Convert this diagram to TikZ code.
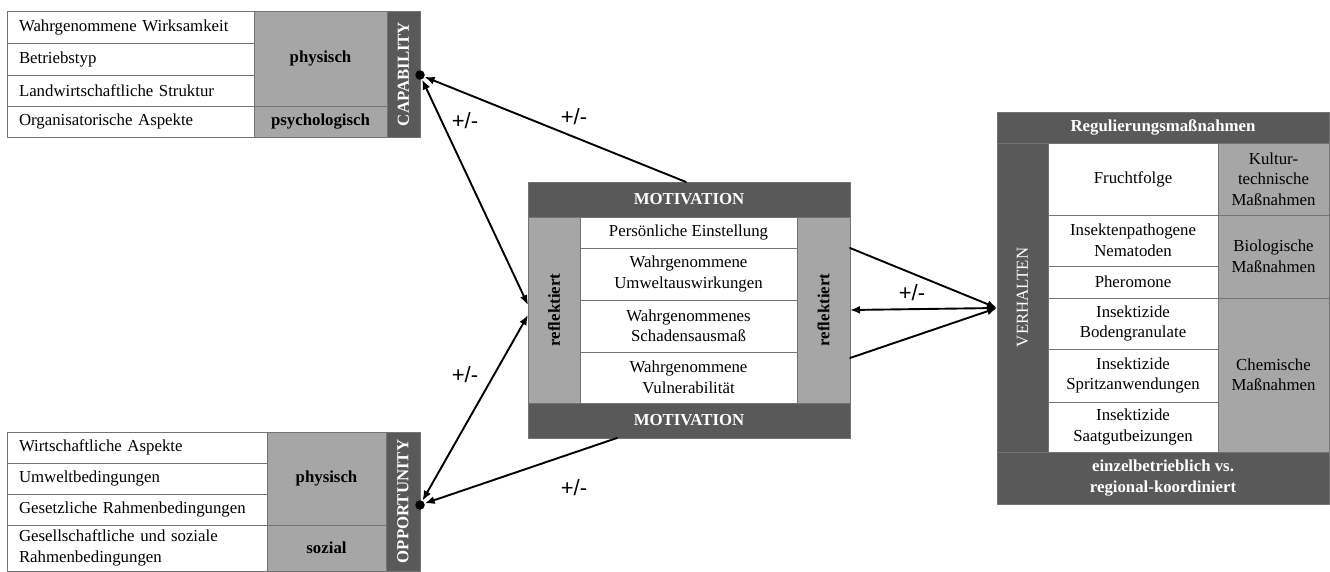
\documentclass[tikz,border=0pt]{standalone}
\usepackage{fontspec}
\setmainfont{Liberation Serif}
\newfontfamily\pmfont{Liberation Sans}
\usetikzlibrary{arrows.meta,positioning}
\definecolor{darkgr}{HTML}{595959}
\definecolor{midgr}{HTML}{A6A6A6}
\newcommand{\cellfont}{\fontsize{16.8}{20.5}\selectfont}
\tikzset{
  sz/.style 2 args={minimum width=#1,minimum height=#2},
  cell/.style={rectangle,draw=black!55,line width=0.7pt,fill=white,inner sep=0pt,
               align=center,font=\cellfont},
  lcell/.style={cell,align=left,text width=#1},
  grp/.style={cell,fill=midgr,font=\cellfont\bfseries},
  hdr/.style={cell,fill=darkgr,text=white,font=\cellfont\bfseries},
  dot/.style={circle,fill=black,inner sep=0pt,minimum size=9.5pt},
  pm/.style={font=\pmfont\fontsize{22}{26}\selectfont},
  arr/.style={line width=1.9pt,-{Latex[length=10pt,width=8pt]}},
  darr/.style={line width=1.9pt,{Latex[length=10pt,width=8pt]}-{Latex[length=10pt,width=8pt]}},
  every picture/.style={line cap=round,line join=round}}

\begin{document}
\begin{tikzpicture}[x=1pt,y=-1pt]
  \useasboundingbox (0,0) rectangle (1330,572);
  % capability
  \node[lcell=223pt,sz={247pt}{32pt}] (c1) at (130.5,27) {Wahrgenommene Wirksamkeit};
  \node[lcell=223pt,sz={247pt}{32pt}] (c2) at (130.5,59) {Betriebstyp};
  \node[lcell=223pt,sz={247pt}{31pt}] (c3) at (130.5,90.5) {Landwirtschaftliche Struktur};
  \node[lcell=223pt,sz={247pt}{31pt}] (c4) at (130.5,121.5) {Organisatorische Aspekte};
  \node[grp,sz={133pt}{95pt}] (cphys) at (320.5,58.5) {physisch};
  \node[grp,sz={133pt}{31pt}] (cpsy) at (320.5,121.5) {psychologisch};
  \node[hdr,rotate=90,sz={126pt}{33pt}] (cap) at (403.5,74) {CAPABILITY};
  \node[dot] (capdot) at (420,75) {};
  % opportunity
  \node[lcell=236pt,sz={260pt}{31pt}] (o1) at (137,447.5) {Wirtschaftliche Aspekte};
  \node[lcell=236pt,sz={260pt}{31pt}] (o2) at (137,478.5) {Umweltbedingungen};
  \node[lcell=236pt,sz={260pt}{31pt}] (o3) at (137,509.5) {Gesetzliche Rahmenbedingungen};
  \node[lcell=236pt,sz={260pt}{46pt}] (o4) at (137,548) {Gesellschaftliche und soziale\\Rahmenbedingungen};
  \node[grp,sz={119pt}{93pt}] (ophys) at (326.5,478.5) {physisch};
  \node[grp,sz={119pt}{46pt}] (osoz) at (326.5,548) {sozial};
  \node[hdr,rotate=90,sz={139pt}{34pt}] (opp) at (403,501.5) {OPPORTUNITY};
  \node[dot] (oppdot) at (420,505) {};
  % motivation
  \node[hdr,sz={322pt}{35pt}] (mtop) at (689,199.5) {MOTIVATION};
  \node[hdr,sz={322pt}{35pt}] (mbot) at (689,420.5) {MOTIVATION};
  \node[grp,text=black,rotate=90,sz={186pt}{52pt}] (refl) at (554,310) {reflektiert};
  \node[grp,text=black,rotate=90,sz={186pt}{53pt}] (refr) at (823.5,310) {reflektiert};
  \node[cell,sz={217pt}{31pt}] (m1) at (688.5,232.5) {Persönliche Einstellung};
  \node[cell,sz={217pt}{52pt}] (m2) at (688.5,274) {Wahrgenommene\\Umweltauswirkungen};
  \node[cell,sz={217pt}{52pt}] (m3) at (688.5,326) {Wahrgenommenes\\Schadensausmaß};
  \node[cell,sz={217pt}{51pt}] (m4) at (688.5,377.5) {Wahrgenommene\\Vulnerabilität};
  % regulierung
  \node[hdr,sz={332pt}{31pt}] (rtop) at (1163,127.5) {Regulierungsmaßnahmen};
  \node[hdr,font=\cellfont,rotate=90,sz={309pt}{51pt}] (verh) at (1022.5,297.5) {VERHALTEN};
  \node[cell,sz={170pt}{72pt}] (r1) at (1133,179) {Fruchtfolge};
  \node[cell,sz={170pt}{51pt}] (r2) at (1133,240.5) {Insektenpathogene\\Nematoden};
  \node[cell,sz={170pt}{32pt}] (r3) at (1133,282) {Pheromone};
  \node[cell,sz={170pt}{51pt}] (r4) at (1133,323.5) {Insektizide\\Bodengranulate};
  \node[cell,sz={170pt}{53pt}] (r5) at (1133,375.5) {Insektizide\\Spritzanwendungen};
  \node[cell,sz={170pt}{50pt}] (r6) at (1133,427) {Insektizide\\Saatgutbeizungen};
  \node[grp,font=\cellfont,sz={111pt}{72pt}] (g1) at (1273.5,179) {Kultur-\\technische\\Maßnahmen};
  \node[grp,font=\cellfont,sz={111pt}{83pt}] (g2) at (1273.5,256.5) {Biologische\\Maßnahmen};
  \node[grp,font=\cellfont,sz={111pt}{154pt}] (g3) at (1273.5,375) {Chemische\\Maßnahmen};
  \node[hdr,sz={332pt}{52pt}] (rbot) at (1163,478) {einzelbetrieblich vs.\\regional-koordiniert};
  % connectors
  \coordinate (mt) at (686,182);
  \coordinate (mb) at (617,438);
  \coordinate (ml1) at (528,305);
  \coordinate (ml2) at (528,315);
  \coordinate (mr1) at (850,248);
  \coordinate (mr2) at (850,310);
  \coordinate (mr3) at (850,358);
  \coordinate (vin) at (997,308);
  \draw[arr] (mt) -- (capdot);
  \draw[darr] (capdot) -- (ml1);
  \draw[darr] (oppdot) -- (ml2);
  \draw[arr] (mb) -- (oppdot);
  \draw[arr] (mr1) -- (vin);
  \draw[arr] (mr3) -- (vin);
  \draw[darr] (mr2) -- (vin);
  \node[pm] (pm1) at (465,121) {+/-};
  \node[pm] (pm2) at (574,117) {+/-};
  \node[pm] (pm3) at (465,375) {+/-};
  \node[pm] (pm4) at (574,488) {+/-};
  \node[pm] (pm5) at (912,293) {+/-};
\end{tikzpicture}
\end{document}
